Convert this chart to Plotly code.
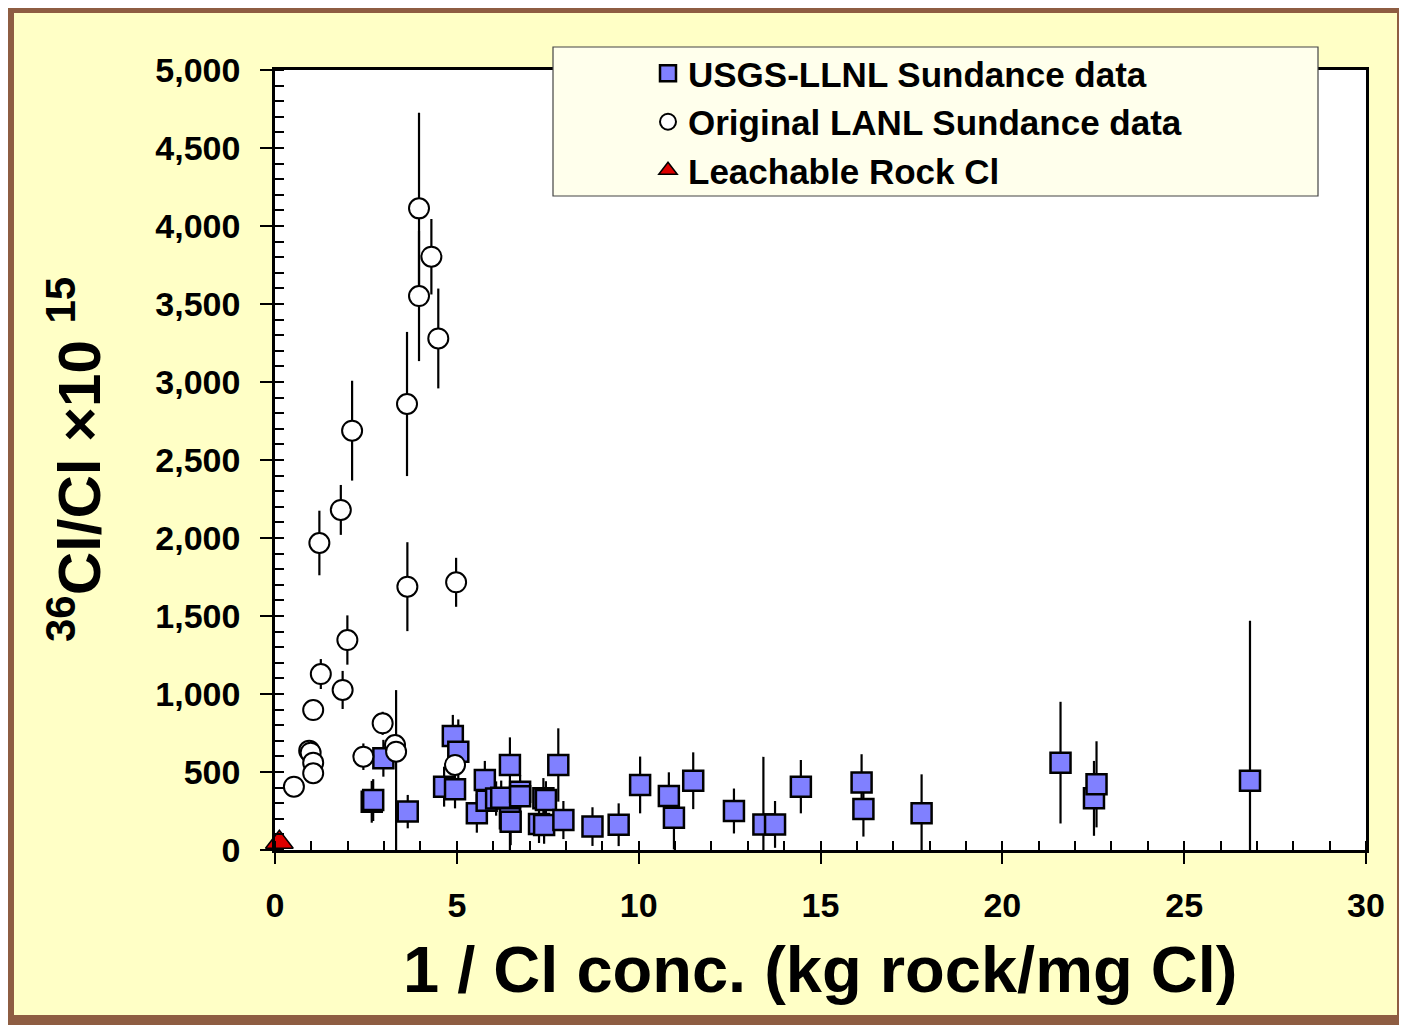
import plotly.graph_objects as go

# ---------------- data ----------------
# USGS-LLNL Sundance data (squares)
usgs_x = [2.66, 2.70, 2.98, 3.65, 4.65, 4.89, 4.95, 5.04, 5.55, 5.77, 5.82, 6.08, 6.22,
          6.46, 6.46, 6.48, 6.74, 6.74, 7.26, 7.40, 7.38, 7.45, 7.79, 7.93, 8.73, 9.45,
          10.04, 10.83, 10.97, 11.50, 12.62, 13.43, 13.75, 14.46, 16.13, 16.18, 17.78,
          21.60, 22.52, 22.59, 26.81]
usgs_y = [309, 320, 588, 246, 406, 731, 389, 630, 235, 449, 316, 330, 335,
          545, 203, 181, 374, 345, 167, 160, 331, 321, 545, 192, 150, 162,
          417, 346, 207, 444, 250, 164, 164, 406, 432, 263, 235,
          560, 331, 421, 444]
usgs_err = [134, 134, 118, 107, 128, 135, 122, 207, 124, 122, 120, 110, 110,
            177, 203, 150, 107, 100, 122, 120, 130, 120, 235, 122, 124, 137,
            182, 152, 203, 182, 144, 433, 150, 171, 182, 177, 250,
            390, 240, 276, 1026]

# Original LANL Sundance data (circles)
lanl_x = [0.52, 0.94, 0.98, 1.05, 1.05, 1.05, 1.26, 1.22, 1.81, 1.86, 1.99, 2.12,
          2.43, 2.96, 3.30, 3.33, 3.63, 3.64, 3.96, 3.96, 4.30, 4.49, 4.95, 4.98]
lanl_y = [406, 637, 624, 560, 492, 897, 1128, 1968, 2180, 1026, 1346, 2688,
          598, 812, 673, 630, 2859, 1688, 4113, 3551, 3803, 3279, 545, 1716]
lanl_err_plus = [0, 0, 0, 0, 0, 0, 96, 207, 160, 122, 158, 320,
                 85, 74, 0, 395, 462, 285, 613, 417, 242, 320, 0, 157]
lanl_err_minus = [0, 0, 0, 0, 0, 0, 96, 207, 160, 122, 158, 320,
                  85, 74, 0, 630, 462, 285, 613, 417, 242, 320, 0, 157]

# Leachable rock Cl (triangle)
rock_x = [0.12]
rock_y = [50]

x_ticks = [0, 5, 10, 15, 20, 25, 30]
y_ticks = [0, 500, 1000, 1500, 2000, 2500, 3000, 3500, 4000, 4500, 5000]

# ---------------- figure ----------------
OFF = 8                      # page body margin
W, H = 1407 - OFF, 1025 - OFF
ML, MT = 275 - OFF, 70 - OFF
PW, PH = 1091, 780
MR = W - ML - PW
MB = H - MT - PH


def px_x(p):
    """screen x (reference pixel) -> paper x"""
    return (p - OFF - ML) / PW


def px_y(p):
    """screen y (reference pixel) -> paper y"""
    return (MT + PH - (p - OFF)) / PH


FONT = "Arial, 'Liberation Sans', sans-serif"
BROWN = "#8E5D42"
PAPER = "#FFFFC6"

fig = go.Figure()

fig.add_trace(go.Scatter(
    x=usgs_x, y=usgs_y, mode="markers", name="USGS-LLNL Sundance data",
    marker=dict(symbol="square", size=20, color="#8080FF",
                line=dict(color="black", width=2.5)),
    error_y=dict(type="data", array=usgs_err, visible=True, color="black",
                 thickness=2.2, width=0),
    legendgroup="a",
))

fig.add_trace(go.Scatter(
    x=lanl_x, y=lanl_y, mode="markers", name="Original LANL Sundance data",
    marker=dict(symbol="circle", size=20, color="white",
                line=dict(color="black", width=2)),
    error_y=dict(type="data", array=lanl_err_plus, arrayminus=lanl_err_minus,
                 visible=True, color="black", thickness=2.2, width=0),
    legendgroup="b",
))

fig.add_trace(go.Scatter(
    x=rock_x, y=rock_y, mode="markers", name="Leachable Rock Cl",
    marker=dict(symbol="triangle-up", size=24, color="#DD0000",
                line=dict(color="black", width=1.5)),
    cliponaxis=False,
    legendgroup="c",
))

fig.update_xaxes(
    range=[0, 30], tickvals=x_ticks, ticktext=[str(v) for v in x_ticks],
    showgrid=False, zeroline=False,
    showline=True, linecolor="black", linewidth=2.5, mirror=True,
    ticks="outside", ticklen=11, tickwidth=2, tickcolor="black",
    ticklabelstandoff=12,
    tickfont=dict(family=FONT, size=34, color="black", weight="bold"),
    minor=dict(dtick=1, ticks="inside", ticklen=9, tickwidth=2, tickcolor="black",
               showgrid=False),
)

fig.update_yaxes(
    range=[0, 5000], tickvals=y_ticks, tickformat=",d",
    showgrid=False, zeroline=False,
    showline=True, linecolor="black", linewidth=2.5, mirror=True,
    ticks="outside", ticklen=12, tickwidth=2, tickcolor="black",
    ticklabelstandoff=13,
    tickfont=dict(family=FONT, size=34, color="black", weight="bold"),
    minor=dict(dtick=100, ticks="inside", ticklen=9, tickwidth=2, tickcolor="black",
               showgrid=False),
)

fig.update_layout(
    width=W, height=H,
    margin=dict(l=ML, r=MR, t=MT, b=MB, pad=0),
    paper_bgcolor=PAPER, plot_bgcolor="white",
    font=dict(family=FONT, color="black"),
    showlegend=True,
    legend=dict(
        x=px_x(648), y=px_y(44), xanchor="left", yanchor="top",
        bgcolor="rgba(0,0,0,0)", borderwidth=0,
        font=dict(family=FONT, size=35, color="black", weight="bold"),
        traceorder="normal", tracegroupgap=0, itemsizing="trace",
    ),
    shapes=[
        # legend box
        dict(type="rect", xref="paper", yref="paper",
             x0=px_x(553), x1=px_x(1318), y0=px_y(196), y1=px_y(47),
             fillcolor="#FFFFEC", line=dict(color="#444444", width=1.2),
             layer="above"),
        # outer brown frame
        dict(type="rect", xref="paper", yref="paper",
             x0=px_x(9), x1=px_x(1402), y0=px_y(1020), y1=px_y(8),
             fillcolor="rgba(0,0,0,0)", line=dict(color=BROWN, width=10),
             layer="above"),
    ],
    annotations=[
        dict(text="1 / Cl conc. (kg rock/mg Cl)", xref="paper", yref="paper",
             x=px_x(820), y=px_y(970), xanchor="center", yanchor="middle",
             showarrow=False,
             font=dict(family=FONT, size=65, color="black", weight="bold")),
        dict(text="<sup>36</sup>Cl/Cl ×10 <sup>15</sup>", xref="paper", yref="paper",
             x=px_x(75), y=px_y(460), xanchor="center", yanchor="middle",
             textangle=-90, showarrow=False,
             font=dict(family=FONT, size=60, color="black", weight="bold")),
    ],
)

fig.write_html("out.html")
